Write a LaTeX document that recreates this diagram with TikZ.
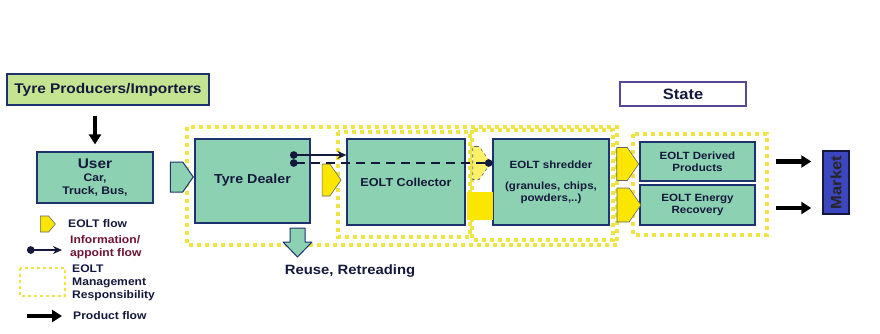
\documentclass[tikz,border=0pt]{standalone}
\usepackage{fontspec}
\setmainfont{Liberation Sans}[FakeStretch=1.1]
\usepackage{tikz}
\usetikzlibrary{shapes.symbols,shapes.arrows,arrows.meta}
\usepackage{xcolor}
\definecolor{prodgreen}{RGB}{196,228,146}
\definecolor{boxteal}{RGB}{140,210,178}
\definecolor{boxline}{RGB}{30,50,110}
\definecolor{eoltyellow}{RGB}{250,230,0}
\definecolor{dotyellow}{RGB}{238,228,70}
\definecolor{marketblue}{RGB}{60,70,190}
\definecolor{statepurple}{RGB}{90,70,150}
\definecolor{infored}{RGB}{110,20,50}
\definecolor{textnavy}{RGB}{20,25,60}

\begin{document}
\begin{tikzpicture}[x=1pt, y=-1pt,
    box/.style={draw=boxline, line width=1.2pt, fill=boxteal, align=center, inner sep=2pt,
        text=textnavy, font=\bfseries\fontsize{11}{13}\selectfont},
    eolt/.style={signal, signal to=east, signal pointer angle=110, fill=eoltyellow,
        draw=black!60, line width=0.6pt, inner sep=0pt},
    hollow/.style={signal, signal to=east, signal pointer angle=110, fill=boxteal,
        draw=boxline, line width=1pt, inner sep=0pt},
    mgmt/.style={draw=dotyellow, line width=3.5pt, dash pattern=on 4pt off 4pt},
    info/.style={textnavy, line width=2.5pt, {Circle[length=7.5pt]}-{Stealth[length=9pt,width=8pt]}},
    prodflow/.style={black, line width=4.5pt, -{Triangle[length=10pt,width=12pt]}},
    legtext/.style={right, inner sep=0pt, align=left, text=textnavy,
        font=\bfseries\fontsize{11}{13}\selectfont},
]
    \useasboundingbox (0,0) rectangle (880,333);

    % management responsibility frames
    \draw[mgmt] (187,127) rectangle (617,245);
    \draw[mgmt] (338,132) rectangle (470,237);
    \draw[mgmt] (472,130) rectangle (613,240);
    \draw[mgmt] (633,134) rectangle (767,235);

    \node[box, fill=prodgreen, minimum width=202pt, minimum height=31pt,
        font=\bfseries\fontsize{14}{16}\selectfont] (prod) at (108,89.5) {Tyre Producers/Importers};
    \node[box, minimum width=116pt, minimum height=51pt] (user) at (95,177.5)
        {{\fontsize{14}{15}\selectfont User}\\ Car,\\Truck, Bus,};
    \node[box, minimum width=115pt, minimum height=84pt,
        font=\bfseries\fontsize{13}{15}\selectfont] (dealer) at (252.5,181) {\raisebox{4pt}{Tyre Dealer}};
    \node[box, minimum width=118pt, minimum height=86pt,
        font=\bfseries\fontsize{11.5}{13}\selectfont] (collector) at (406,182) {EOLT Collector};
    \node[box, minimum width=116pt, minimum height=86pt,
        font=\bfseries\fontsize{10.5}{12}\selectfont] (shredder) at (551,182)
        {EOLT shredder\\[9pt](granules, chips,\\powders,..)};
    \node[box, minimum width=115pt, minimum height=39pt,
        font=\bfseries\fontsize{10.5}{12}\selectfont] (derived) at (697.5,161.5) {EOLT Derived\\Products};
    \node[box, minimum width=115pt, minimum height=40pt,
        font=\bfseries\fontsize{10.5}{12}\selectfont] (energy) at (697.5,205) {EOLT Energy\\Recovery};
    \node[box, fill=white, draw=statepurple, minimum width=126pt, minimum height=24pt,
        font=\bfseries\fontsize{15}{17}\selectfont] (state) at (683,94) {State};
    \node[box, fill=marketblue, draw=textnavy, line width=1.5pt, rotate=90, text=black!85,
        minimum width=63pt, minimum height=26pt, inner sep=0pt,
        font=\bfseries\fontsize{15}{17}\selectfont] (market) at (836,182.5) {Market};

    % EOLT flows
    \node[hollow, minimum width=23pt, minimum height=30pt] (userflow) at (176.5,177) {};
    \node[eolt, minimum width=19pt, minimum height=32pt] (dealerflow) at (326,180) {};
    \node[eolt, fill=eoltyellow!60, dashed, minimum width=18pt, minimum height=33pt] (collflow) at (476,163) {};
    \node[fill=eoltyellow, minimum width=26pt, minimum height=28pt, inner sep=0pt] (collbar) at (480,206) {};
    \node[eolt, minimum width=22pt, minimum height=33pt] (shredflow1) at (622,164) {};
    \node[eolt, minimum width=24pt, minimum height=34pt] (shredflow2) at (623,205) {};

    % reuse
    \draw[fill=boxteal, draw=boxline, line width=1pt, line join=round]
        (290,228) -- (305,228) -- (305,242) -- (312,242) -- (297.5,257)
        -- (283,242) -- (290,242) -- cycle;
    \node[font=\bfseries\fontsize{13.5}{15}\selectfont, text=textnavy] (reuse) at (350,271) {Reuse, Retreading};

    % information flows
    \coordinate (d1) at (290,155);
    \coordinate (d2) at (290,163);
    \draw[info] (d1) -- (collector.west |- d1);
    \draw[info, dash pattern=on 9pt off 6pt, {Circle[length=7.5pt]}-{Circle[length=7.5pt]}] (d2) -- (shredder.west |- d2);

    % product flows
    \coordinate (e1) at ([yshift=-3pt]energy.east);
    \draw[prodflow, shorten <=10pt, shorten >=7pt] (prod.south -| user.north) -- (user.north);
    \draw[prodflow, shorten <=20pt, shorten >=11pt] (derived.east) -- (market.north |- derived.east);
    \draw[prodflow, shorten <=20pt, shorten >=11pt] (e1) -- (market.north |- e1);

    % legend
    \node[eolt, minimum width=15pt, minimum height=16pt, signal pointer angle=100] (legflow) at (44.5,224) {};
    \node[legtext] (legflowtxt) at (68,224) {EOLT flow};
    \coordinate (li1) at (27,250);
    \coordinate (li2) at (62,250);
    \draw[info] (li1) -- (li2);
    \node[legtext, text=infored] (leginfotxt) at (70,247) {Information/\\appoint flow};
    \draw[mgmt, line width=2.5pt, dash pattern=on 3pt off 3pt] (20,268) rectangle (65,296);
    \node[legtext] (legmgmttxt) at (72,283) {EOLT\\Management\\Responsibility};
    \coordinate (lp1) at (27,316);
    \coordinate (lp2) at (62,316);
    \draw[prodflow] (lp1) -- (lp2);
    \node[legtext] (legprodtxt) at (73,316) {Product flow};
\end{tikzpicture}
\end{document}
